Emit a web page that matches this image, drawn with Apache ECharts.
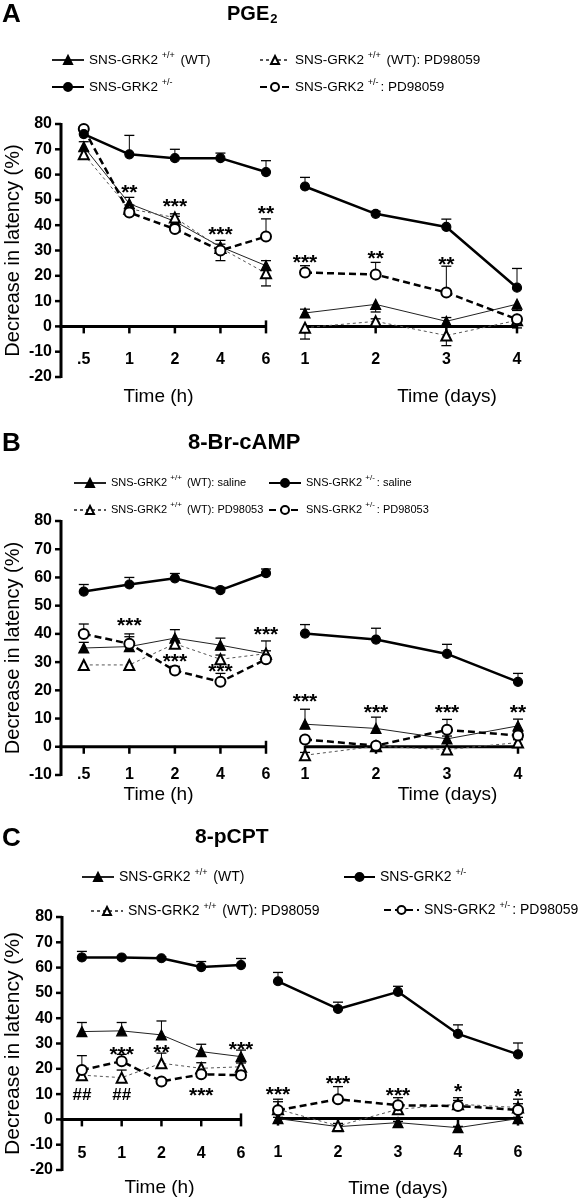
<!DOCTYPE html>
<html><head><meta charset="utf-8">
<script src="https://cdn.jsdelivr.net/npm/echarts@6/dist/echarts.min.js"></script>
<style>html,body{margin:0;padding:0;background:#fff}#c{width:586px;height:1199px}</style>
</head><body><div id="c"></div>
<script>
const FONT = '"Liberation Sans", Arial, sans-serif';

// ---------- Panel A : PGE2 ----------
const A_hourLabels = ['.5', '1', '2', '4', '6'];
const A_dayLabels = ['1', '2', '3', '4'];
const A_h_wt = [71, 48.5, 41.5, 31.5, 24];
const A_h_wt_err = [2, 2.5, 2, 2.5, 2];
const A_h_wtpd = [68, 46.5, 43, 31, 21];
const A_h_wtpd_err = [1.5, 1.5, 1.5, 1.5, -5];
const A_h_grk = [76, 68, 66.5, 66.5, 61];
const A_h_grk_err = [1.5, 7.5, 3.5, 2, 4.5];
const A_h_grkpd = [78, 45, 38.5, 30, 35.5];
const A_h_grkpd_err = [1, 1.5, 1.5, -4, 7];
const A_h_stars = [[1, 54.5, '**'], [2, 49, '***'], [3, 38, '***'], [4, 46.5, '**']];
const A_d_wt = [5.3, 8.7, 2, 8.8];
const A_d_wt_err = [1.5, -3, 1.5, -2.5];
const A_d_wtpd = [-0.5, 2, -3.6, 2.4];
const A_d_wtpd_err = [-4.5, 1, -4, -3];
const A_d_grk = [55.3, 44.5, 39.3, 15.3];
const A_d_grk_err = [3.6, 1, 3.1, 7.6];
const A_d_grkpd = [21.3, 20.5, 13.4, 2.8];
const A_d_grkpd_err = [2.7, 4.8, 10.4, 1];
const A_d_stars = [[0, 27, '***'], [1, 28.5, '**'], [2, 26, '**']];

// ---------- Panel B : 8-Br-cAMP ----------
const B_hourLabels = ['.5', '1', '2', '4', '6'];
const B_dayLabels = ['1', '2', '3', '4'];
const B_h_wt = [35, 35.5, 38.5, 36, 33];
const B_h_wt_err = [2, 3.5, 3, 2.5, 4.5];
const B_h_wtpd = [29, 29, 36.5, 31, 33];
const B_h_wtpd_err = [-1.5, -1.5, 1, 1.5, 1];
const B_h_grk = [55, 57.5, 59.7, 55.5, 61.5];
const B_h_grk_err = [2.5, 2.5, 1.7, 1, 1.5];
const B_h_grkpd = [40, 36.5, 27, 23, 31];
const B_h_grkpd_err = [3.5, 3.5, 1.5, 3, 1];
const B_h_stars = [[1, 44.6, '***'], [2, 31.9, '***'], [3, 28.3, '***'], [4, 41.3, '***']];
const B_d_wt = [8, 6.5, 2.8, 7.4];
const B_d_wt_err = [5.3, 4, 1, 2.4];
const B_d_wtpd = [-3, 0.2, -1, 1.5];
const B_d_wtpd_err = [1, 1, 1, 1];
const B_d_grk = [40.1, 38, 32.9, 23];
const B_d_grk_err = [3.2, 4, 3.4, 3];
const B_d_grkpd = [2.6, 0.4, 6, 4];
const B_d_grkpd_err = [1, 1, 3.7, 1.5];
const B_d_stars = [[0, 17.7, '***'], [1, 13.6, '***'], [2, 13.6, '***'], [3, 13.6, '**']];

// ---------- Panel C : 8-pCPT ----------
const C_hourLabels = ['5', '1', '2', '4', '6'];
const C_dayLabels = ['1', '2', '3', '4', '6'];
const C_h_wt = [34.7, 35, 33.4, 26.8, 24.8];
const C_h_wt_err = [3.6, 3.3, 5.5, 2.9, 2.6];
const C_h_wtpd = [17.5, 16.5, 22.2, 20.2, 20.8];
const C_h_wtpd_err = [1.5, 3, 4, 2.2, 1.5];
const C_h_grk = [64, 64, 63.7, 60.2, 61];
const C_h_grk_err = [2.4, 0.5, 0.5, 2.2, 2.6];
const C_h_grkpd = [19.5, 23, 15, 17.8, 17.5];
const C_h_grkpd_err = [5.7, 2.7, 1, 1, 1];
const C_h_stars = [[1, 27.4, '***'], [2, 28, '**'], [4, 29.4, '***'], [0, 9.4, '##'], [1, 9.4, '##'], [3, 11.2, '***']];
const C_d_wt = [0, -3.2, -1.6, -3.6, 0];
const C_d_wt_err = [0.5, 0.5, 0.5, 0.5, 0.5];
const C_d_wtpd = [3.7, -2.9, 3.7, 5.7, 4.4];
const C_d_wtpd_err = [3, 1, 2, 1.5, 1.5];
const C_d_grk = [54.5, 43.5, 50.3, 33.6, 25.5];
const C_d_grk_err = [3.5, 2.7, 2.2, 3.6, 4.5];
const C_d_grkpd = [3.3, 7.7, 5.3, 5, 3.4];
const C_d_grkpd_err = [4.4, 5, 3, 3.3, 4.3];
const C_d_stars = [[0, 11.2, '***'], [1, 15.6, '***'], [2, 11, '***'], [3, 12.3, '*'], [4, 10.3, '*']];

// ---------- Text ----------
const yAxisName = 'Decrease in latency (%)';
const hourName = 'Time (h)';
const dayName = 'Time (days)';
const legendTextA = {A_wt: 'SNS-GRK2 {sup|+/+} (WT)', A_grk: 'SNS-GRK2 {sup|+/-}', A_wtpd: 'SNS-GRK2 {sup|+/+} (WT): PD98059', A_grkpd: 'SNS-GRK2 {sup|+/-}: PD98059'};
const legendTextB = {B_wt: 'SNS-GRK2 {sup|+/+} (WT): saline', B_grk: 'SNS-GRK2 {sup|+/-}: saline', B_wtpd: 'SNS-GRK2 {sup|+/+} (WT): PD98053', B_grkpd: 'SNS-GRK2 {sup|+/-}: PD98053'};
const legendTextC = {C_wt: 'SNS-GRK2 {sup|+/+} (WT)', C_grk: 'SNS-GRK2 {sup|+/-}', C_wtpd: 'SNS-GRK2 {sup|+/+} (WT): PD98059', C_grkpd: 'SNS-GRK2 {sup|+/-}: PD98059'};

const STYLE = {
  wt:    {symbol: 'triangle', symbolSize: 10, lineStyle: {color: '#222', width: 1, type: 'solid'}},
  wtpd:  {symbol: 'emptyTriangle', symbolSize: 10, lineStyle: {color: '#555', width: 1, type: [3, 3]}},
  grk:   {symbol: 'circle', symbolSize: 9, lineStyle: {color: '#000', width: 2.5, type: 'solid'}},
  grkpd: {symbol: 'emptyCircle', symbolSize: 10, lineStyle: {color: '#000', width: 2.5, type: [7, 4]}}
};

const grids = [], xAxes = [], yAxes = [], series = [];

function errRender(vals, errs) {
  return function (params, api) {
    const i = params.dataIndex;
    const e = errs[i];
    if (!e) return null;
    const p0 = api.coord([i, vals[i]]);
    const p1 = api.coord([i, vals[i] + e]);
    return {type: 'group', children: [
      {type: 'line', shape: {x1: p0[0], y1: p0[1], x2: p1[0], y2: p1[1]}, style: {stroke: '#000', lineWidth: 1}},
      {type: 'line', shape: {x1: p1[0] - 5, y1: p1[1], x2: p1[0] + 5, y2: p1[1]}, style: {stroke: '#000', lineWidth: 1.3}}
    ]};
  };
}

function addPlot(g) {
  const gi = grids.length;
  grids.push({left: g.left, top: g.top, width: g.width, height: g.height});
  const idx = g.labels.map((_, i) => i);
  const xmax = g.labels.length - 1;
  xAxes.push({
    type: 'value', gridIndex: gi, min: g.xmin, max: xmax,
    axisLine: {show: false, onZero: false},
    axisTick: {show: false},
    axisLabel: {customValues: idx, formatter: v => g.labels[Math.round(v)], margin: g.labelMargin,
      fontFamily: FONT, fontWeight: 'bold', fontSize: 16, color: '#000'},
    splitLine: {show: false},
    name: g.xName, nameLocation: 'middle', nameGap: g.nameGap,
    nameTextStyle: {fontFamily: FONT, fontSize: 19, color: '#000', padding: g.namePad}
  });
  yAxes.push({
    type: 'value', gridIndex: gi, min: g.ymin, max: g.ymax, interval: 10, show: g.showY,
    axisLine: {show: false, onZero: false},
    axisTick: {show: false},
    axisLabel: {fontFamily: FONT, fontWeight: 'bold', fontSize: 16, color: '#000', margin: 9},
    splitLine: {show: false},
    name: g.showY ? yAxisName : '', nameLocation: 'middle', nameGap: 38,
    nameTextStyle: {fontFamily: FONT, fontSize: g.yNameSize || 20, color: '#000'}
  });
  // axis lines and ticks, placed through the grid's own scales
  series.push({
    type: 'custom', coordinateSystem: 'cartesian2d', xAxisIndex: gi, yAxisIndex: gi, data: [[0, 0]],
    silent: true, z: 1, clip: false,
    renderItem: function (params, api) {
      const ch = [];
      const a = api.coord([g.xmin, 0]), b = api.coord([xmax, 0]);
      ch.push({type: 'line', shape: {x1: a[0] - (g.showY ? 1.5 : 0), y1: a[1], x2: b[0], y2: b[1]}, style: {stroke: '#000', lineWidth: 3}});
      idx.forEach(i => {
        const p = api.coord([i, 0]);
        const up = i === xmax ? 6 : 1;
        ch.push({type: 'line', shape: {x1: p[0], y1: p[1] - up, x2: p[0], y2: p[1] + 7}, style: {stroke: '#000', lineWidth: 2.5}});
      });
      if (g.showY) {
        const t = api.coord([g.xmin, g.ymax]), u = api.coord([g.xmin, g.ymin]);
        ch.push({type: 'line', shape: {x1: t[0], y1: t[1] - 1, x2: u[0], y2: u[1] + 1}, style: {stroke: '#000', lineWidth: 3}});
        for (let v = g.ymin; v <= g.ymax; v += 10) {
          const p = api.coord([g.xmin, v]);
          ch.push({type: 'line', shape: {x1: p[0] - 6, y1: p[1], x2: p[0], y2: p[1]}, style: {stroke: '#000', lineWidth: 2.5}});
        }
      }
      return {type: 'group', children: ch};
    }
  });
  g.groups.forEach(s => {
    const st = STYLE[s.kind];
    series.push({
      type: 'custom', name: s.name + '_err', coordinateSystem: 'cartesian2d', xAxisIndex: gi, yAxisIndex: gi,
      data: s.vals.map((v, i) => [i, v]), renderItem: errRender(s.vals, s.errs), z: 2, silent: true
    });
    series.push({
      type: 'line', name: s.name, xAxisIndex: gi, yAxisIndex: gi,
      data: s.vals.map((v, i) => [i, v]),
      symbol: st.symbol, symbolSize: st.symbolSize, showAllSymbol: true,
      lineStyle: st.lineStyle, itemStyle: {color: '#000', borderColor: '#000', borderWidth: 1.2},
      z: s.kind === 'grk' ? 5 : 4, animation: false
    });
  });
  const stars = g.stars;
  series.push({
    type: 'custom', coordinateSystem: 'cartesian2d', xAxisIndex: gi, yAxisIndex: gi,
    data: stars.map(s => [s[0], s[1]]), z: 6, silent: true,
    renderItem: function (params, api) {
      const s = stars[params.dataIndex];
      const p = api.coord([s[0], s[1]]);
      const isStar = s[2].indexOf('*') >= 0;
      return {type: 'text', x: p[0], y: p[1] + (isStar ? 5 : 0),
        style: {text: s[2], fontFamily: FONT, fontWeight: 'bold', fontSize: isStar ? 21 : 17, fill: '#000',
          align: 'center', verticalAlign: 'middle'}};
    }
  });
}

function groups(prefix, d) {
  return ['wt', 'wtpd', 'grk', 'grkpd'].map(k => ({name: prefix + '_' + k, kind: k, vals: d[k], errs: d[k + '_err']}));
}

addPlot({left: 61, top: 124, width: 205, height: 253, xmin: -0.5, labels: A_hourLabels, ymin: -20, ymax: 80, showY: true,
  xName: hourName, nameGap: 10, namePad: [0, 10, 0, 0], labelMargin: -25,
  groups: groups('A', {wt: A_h_wt, wt_err: A_h_wt_err, wtpd: A_h_wtpd, wtpd_err: A_h_wtpd_err, grk: A_h_grk, grk_err: A_h_grk_err, grkpd: A_h_grkpd, grkpd_err: A_h_grkpd_err}),
  stars: A_h_stars});
addPlot({left: 305, top: 124, width: 212, height: 253, xmin: 0, labels: A_dayLabels, ymin: -20, ymax: 80, showY: false,
  xName: dayName, nameGap: 10, namePad: [0, 0, 0, 72], labelMargin: -25,
  groups: groups('A', {wt: A_d_wt, wt_err: A_d_wt_err, wtpd: A_d_wtpd, wtpd_err: A_d_wtpd_err, grk: A_d_grk, grk_err: A_d_grk_err, grkpd: A_d_grkpd, grkpd_err: A_d_grkpd_err}),
  stars: A_d_stars});
addPlot({left: 61, top: 521, width: 205, height: 254, xmin: -0.5, labels: B_hourLabels, ymin: -10, ymax: 80, showY: true,
  xName: hourName, nameGap: 10, namePad: [0, 10, 0, 0], labelMargin: -8,
  groups: groups('B', {wt: B_h_wt, wt_err: B_h_wt_err, wtpd: B_h_wtpd, wtpd_err: B_h_wtpd_err, grk: B_h_grk, grk_err: B_h_grk_err, grkpd: B_h_grkpd, grkpd_err: B_h_grkpd_err}),
  stars: B_h_stars});
addPlot({left: 305, top: 521, width: 213, height: 254, xmin: 0, labels: B_dayLabels, ymin: -10, ymax: 80, showY: false,
  xName: dayName, nameGap: 10, namePad: [0, 0, 0, 72], labelMargin: -8,
  groups: groups('B', {wt: B_d_wt, wt_err: B_d_wt_err, wtpd: B_d_wtpd, wtpd_err: B_d_wtpd_err, grk: B_d_grk, grk_err: B_d_grk_err, grkpd: B_d_grkpd, grkpd_err: B_d_grkpd_err}),
  stars: B_d_stars});
addPlot({left: 62, top: 917, width: 179, height: 253, xmin: -0.5, labels: C_hourLabels, ymin: -20, ymax: 80, showY: true, yNameSize: 21,
  xName: hourName, nameGap: 8, namePad: [0, 0, 0, 16], labelMargin: -24,
  groups: groups('C', {wt: C_h_wt, wt_err: C_h_wt_err, wtpd: C_h_wtpd, wtpd_err: C_h_wtpd_err, grk: C_h_grk, grk_err: C_h_grk_err, grkpd: C_h_grkpd, grkpd_err: C_h_grkpd_err}),
  stars: C_h_stars});
addPlot({left: 278, top: 917, width: 240, height: 253, xmin: 0, labels: C_dayLabels, ymin: -20, ymax: 80, showY: false,
  xName: dayName, nameGap: 10, namePad: [0, 0, 0, 0], labelMargin: -24,
  groups: groups('C', {wt: C_d_wt, wt_err: C_d_wt_err, wtpd: C_d_wtpd, wtpd_err: C_d_wtpd_err, grk: C_d_grk, grk_err: C_d_grk_err, grkpd: C_d_grkpd, grkpd_err: C_d_grkpd_err}),
  stars: C_d_stars});

const legendText = Object.assign({}, legendTextA, legendTextB, legendTextC);
const legendPos = [
  ['A_wt', 51, 60, 32, 13.5], ['A_grk', 51, 87, 32, 13.5], ['A_wtpd', 259, 60, 30, 13.5], ['A_grkpd', 259, 87, 30, 13.5],
  ['B_wt', 73, 483, 32, 11], ['B_grk', 268, 483, 32, 11], ['B_wtpd', 73, 510, 32, 11], ['B_grkpd', 268, 510, 32, 11],
  ['C_wt', 81, 877, 32, 14], ['C_grk', 343, 877, 31, 14], ['C_wtpd', 90, 911, 32, 14], ['C_grkpd', 383, 910, 35, 14]
];
const legends = legendPos.map(p => ({
  data: [p[0]], left: p[1], top: p[2] - 9, itemWidth: p[3], itemHeight: 10, padding: 0, itemGap: 0,
  selectedMode: false, formatter: n => legendText[n],
  textStyle: {fontFamily: FONT, fontSize: p[4], color: '#000', lineHeight: 18,
    rich: {sup: {fontFamily: FONT, fontSize: p[4] < 12 ? 8 : 9, verticalAlign: 'top', lineHeight: 18, padding: [0, 2, 0, 0]}}}
}));

const titles = [
  {text: 'A', left: 2, top: 2}, {text: 'PGE{sub|2}', left: 227, top: 3, size: 20},
  {text: 'B', left: 2, top: 431}, {text: '8-Br-cAMP', left: 188, top: 432, size: 22},
  {text: 'C', left: 2, top: 826}, {text: '8-pCPT', left: 195, top: 827, size: 21}
].map(t => ({
  text: t.text, left: t.left, top: t.top, padding: 0,
  textStyle: {fontFamily: FONT, fontWeight: 'bold', fontSize: t.size || 26, color: '#000',
    rich: {sub: {fontFamily: FONT, fontWeight: 'bold', fontSize: 13, verticalAlign: 'bottom', padding: [10, 0, 0, 1]}}}
}));

const chart = echarts.init(document.getElementById('c'), null, {renderer: 'canvas'});
chart.setOption({
  backgroundColor: '#fff', animation: false,
  title: titles, legend: legends,
  grid: grids, xAxis: xAxes, yAxis: yAxes, series: series
});
</script></body></html>
